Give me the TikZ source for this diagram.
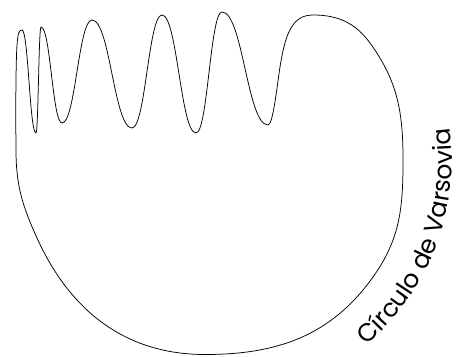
\documentclass[tikz,border=0pt]{standalone}
\usepackage{fontspec}
\newfontfamily\vfont{Poppins}
\usetikzlibrary{decorations.text}
\tikzset{
  curve/.style={draw=black, line width=0.75pt, line join=round},
  labeltext/.style={decorate, decoration={text along path, text align=center,
    text={|\vfont\fontsize{25}{29}\selectfont|Círculo de Varsovia}}}
}
\begin{document}
\begin{tikzpicture}[x=1pt,y=1pt]
\useasboundingbox (0,-356) rectangle (462,0);
\path[curve] (313,-15) to[out=0,in=126] (370,-43) to[out=-54,in=90] (403,-160)
  to[out=-90,in=54.5] (373,-277) to[out=-125.5,in=0] (205,-354.5)
  to[out=180,in=-65.6] (37,-238) to[out=114.4,in=-90] (16,-150)
  .. controls (15.5,-100) and (16,-60) .. (17,-45)
  .. controls (18,-33) and (19,-30) .. (22,-30)
  .. controls (28.3,-30) and (29.7,-133) .. (36,-133)
  .. controls (38.25,-133) and (38.75,-27) .. (41,-27)
  .. controls (50.45,-27) and (52.55,-123) .. (62,-123)
  .. controls (75.5,-123) and (78.5,-20) .. (92,-20)
  .. controls (110,-20) and (114,-128) .. (132,-128)
  .. controls (145.5,-128) and (148.5,-15) .. (162,-15)
  .. controls (177.3,-15) and (180.7,-133) .. (196,-133)
  .. controls (207.7,-133) and (210.3,-12) .. (222,-12)
  .. controls (242.7,-12) and (247.3,-125) .. (268,-125)
  .. controls (273,-125) and (276.9,-86.8) .. (280,-67)
  .. controls (285.5,-32) and (293,-15) .. (313,-15) -- cycle;
\path[labeltext] (209,-160) ++(-64:243) arc[start angle=-64, end angle=22, radius=243];
\end{tikzpicture}
\end{document}
